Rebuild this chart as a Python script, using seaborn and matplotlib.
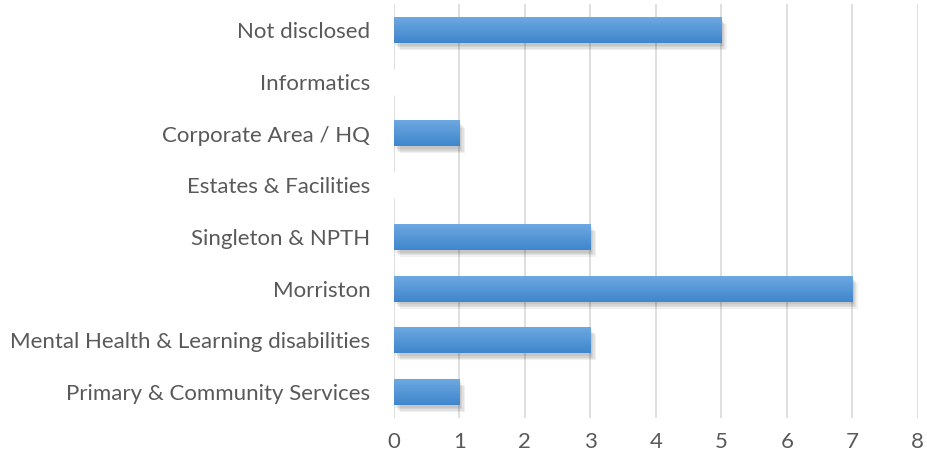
import numpy as np
import pandas as pd
import seaborn as sns
import matplotlib.pyplot as plt
import matplotlib.patheffects as pe

categories = ['Not disclosed', 'Informatics', 'Corporate Area / HQ', 'Estates & Facilities',
              'Singleton & NPTH', 'Morriston', 'Mental Health & Learning disabilities',
              'Primary & Community Services']
counts = [5, 0, 1, 0, 3, 7, 3, 1]
x_ticks = [0, 1, 2, 3, 4, 5, 6, 7, 8]

df = pd.DataFrame({'category': categories, 'count': counts})

sns.set_theme(style='white')
plt.rcParams['font.family'] = ['Lato', 'DejaVu Sans']

fig = plt.figure(figsize=(9.27, 4.63), dpi=100)
ax = fig.add_axes([0.425, 0.097, 0.565, 0.894])

sns.barplot(data=df, x='count', y='category', color='#5b9bd5', width=0.5,
            orient='h', ax=ax, zorder=3)

# gradient fill + soft shadow like the Excel original
grad = np.linspace(0, 1, 64).reshape(-1, 1)
cmap = sns.blend_palette(['#6da8e2', '#3f86cc'], as_cmap=True)
shadow = [pe.SimplePatchShadow(offset=(o, -o - 1), shadow_rgbFace='#000000', alpha=0.06)
          for o in (4, 3, 2, 1)]
for p in ax.patches:
    w = p.get_width()
    if w <= 0:
        continue
    x0, y0, h = p.get_x(), p.get_y(), p.get_height()
    p.set_edgecolor('none')
    p.set_path_effects(shadow + [pe.Normal()])
    ax.imshow(grad, cmap=cmap, aspect='auto', extent=(x0, x0 + w, y0 + h, y0),
              zorder=4, interpolation='bicubic')

ax.set_xlim(0, 8)
ax.set_ylim(7.5, -0.5)
ax.set_xticks(x_ticks)
ax.grid(axis='x', color='#d9d9d9', linewidth=1.2, zorder=0)
ax.set_axisbelow(True)
for s in ax.spines.values():
    s.set_visible(False)
ax.tick_params(axis='both', length=0, labelsize=16, colors='#595959')
ax.tick_params(axis='x', pad=10)
ax.tick_params(axis='y', pad=17)
ax.set_xlabel('')
ax.set_ylabel('')

fig.savefig('out.png', dpi=100)
